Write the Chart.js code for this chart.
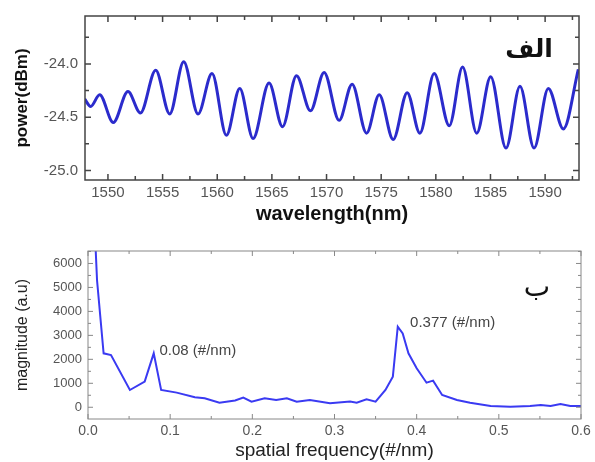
<!DOCTYPE html>
<html>
<head>
<meta charset="utf-8">
<script src="https://cdn.jsdelivr.net/npm/chart.js@4"></script>
<style>
  html, body { margin: 0; padding: 0; background: #fff; }
  #wrap { position: relative; width: 595px; height: 462px; }
  canvas { position: absolute; left: 0; }
  #top { top: 0; }
  #bottom { top: 232px; }
</style>
</head>
<body>
<div id="wrap">
  <canvas id="top" width="595" height="232"></canvas>
  <canvas id="bottom" width="595" height="230"></canvas>
</div>
<script>
// top plot: peaks and troughs of the transmission ripple
var wavelength = [1547.87, 1548.42, 1549.24, 1550.49, 1551.83, 1552.97, 1554.37, 1555.65, 1556.93, 1558.24,
    1559.52, 1560.84, 1562.06, 1563.28, 1564.74, 1565.97, 1567.25, 1568.53, 1569.78, 1571.15,
    1572.34, 1573.66, 1574.82, 1576.10, 1577.38, 1578.54, 1579.85, 1581.23, 1582.45, 1583.74,
    1585.02, 1586.42, 1587.70, 1588.99, 1590.29, 1591.67, 1593.04];
var power = [-24.33, -24.40, -24.29, -24.55, -24.26, -24.46, -24.06, -24.47, -23.98, -24.47,
    -24.09, -24.67, -24.23, -24.70, -24.18, -24.59, -24.11, -24.44, -24.08, -24.53,
    -24.19, -24.65, -24.29, -24.71, -24.27, -24.65, -24.09, -24.58, -24.03, -24.65,
    -24.12, -24.79, -24.21, -24.79, -24.23, -24.61, -24.05];

// bottom plot: spectrum magnitude
var freq = [0.008, 0.011, 0.019, 0.028, 0.051, 0.069, 0.080, 0.089, 0.108, 0.130,
    0.142, 0.160, 0.179, 0.189, 0.199, 0.215, 0.229, 0.242, 0.254, 0.270,
    0.2945, 0.319, 0.327, 0.339, 0.350, 0.362, 0.371, 0.377, 0.383, 0.390,
    0.400, 0.412, 0.420, 0.431, 0.449, 0.465, 0.490, 0.514, 0.538, 0.551,
    0.563, 0.575, 0.587, 0.600];
var magnitude = [7600, 5300, 2250, 2180, 720, 1070, 2250, 720, 610, 420,
    375, 190, 280, 400, 235, 375, 300, 375, 235, 300,
    165, 235, 190, 330, 235, 720, 1275, 3360, 3080, 2250,
    1625, 1025, 1110, 510, 300, 190, 55, 25, 55, 95,
    55, 140, 55, 55];
var magnitudeTicks = [0, 1000, 2000, 3000, 4000, 5000, 6000];

var peakLabels = ['0.08 (#/nm)', '0.377 (#/nm)'];
var peakLabelX = [0.087, 0.392];
var peakLabelY = [2345, 3525];

function toPoints(xs, ys) {
    var pts = [];
    for (var i = 0; i < xs.length; i++) pts.push({x: xs[i], y: ys[i]});
    return pts;
}

function steps(min, max, step) {
    var out = [];
    var v = Math.ceil(min / step - 1e-9) * step;
    for (; v <= max + 1e-9; v += step) out.push(Math.round(v * 1e6) / 1e6);
    return out;
}

// frame with inward tick marks on all four sides
var framePlugin = {
    id: 'frame',
    afterDraw: function (chart, args, o) {
        var ctx = chart.ctx, a = chart.chartArea, xs = chart.scales.x, ys = chart.scales.y;
        ctx.save();
        ctx.strokeStyle = o.color;
        ctx.lineWidth = o.width;
        ctx.strokeRect(a.left, a.top, a.right - a.left, a.bottom - a.top);
        ctx.beginPath();
        steps(xs.min, xs.max, o.xStep).forEach(function (v) {
            var px = xs.getPixelForValue(v);
            var len = Math.abs(v / o.xMajor - Math.round(v / o.xMajor)) < 1e-6 ? o.major : o.minor;
            ctx.moveTo(px, a.bottom); ctx.lineTo(px, a.bottom - len);
            ctx.moveTo(px, a.top); ctx.lineTo(px, a.top + len);
        });
        steps(ys.min, ys.max, o.yStep).forEach(function (v) {
            var py = ys.getPixelForValue(v);
            var len = Math.abs(v / o.yMajor - Math.round(v / o.yMajor)) < 1e-6 ? o.major : o.minor;
            ctx.moveTo(a.left, py); ctx.lineTo(a.left + len, py);
            ctx.moveTo(a.right, py); ctx.lineTo(a.right - len, py);
        });
        ctx.stroke();
        ctx.restore();
    }
};

// free text: panel letter and peak notes
var notesPlugin = {
    id: 'notes',
    afterDraw: function (chart, args, o) {
        var ctx = chart.ctx, xs = chart.scales.x, ys = chart.scales.y;
        ctx.save();
        ctx.fillStyle = '#111';
        ctx.font = o.tagFont;
        ctx.textAlign = 'center';
        ctx.textBaseline = 'middle';
        ctx.direction = 'rtl';
        ctx.fillText(o.tag, o.tagX, o.tagY);
        ctx.direction = 'ltr';
        if (o.labels) {
            ctx.fillStyle = '#444';
            ctx.font = '15px "Liberation Sans", Arial, sans-serif';
            ctx.textAlign = 'left';
            o.labels.forEach(function (t, i) {
                ctx.fillText(t, xs.getPixelForValue(o.lx[i]), ys.getPixelForValue(o.ly[i]));
            });
        }
        ctx.restore();
    }
};

Chart.defaults.font.family = '"Liberation Sans", Arial, sans-serif';
Chart.defaults.color = '#555';

var topChart = new Chart(document.getElementById('top'), {
    type: 'line',
    data: {
        datasets: [{
            data: toPoints(wavelength, power),
            borderColor: '#2b2bcc',
            borderWidth: 3,
            pointRadius: 0,
            cubicInterpolationMode: 'monotone'
        }]
    },
    options: {
        responsive: false,
        animation: false,
        devicePixelRatio: 1,
        layout: {padding: {top: 10, right: 16, left: 0, bottom: 0}},
        plugins: {
            legend: {display: false},
            tooltip: {enabled: false},
            frame: {color: '#444', width: 1.5, xStep: 2.5, xMajor: 5, yStep: 0.25, yMajor: 0.5, major: 6, minor: 4},
            notes: {tag: 'الف', tagFont: 'bold 25px "DejaVu Sans"', tagX: 529, tagY: 50}
        },
        scales: {
            x: {
                type: 'linear', min: 1547.9, max: 1593.1,
                grid: {display: false, drawTicks: false}, border: {display: false},
                ticks: {stepSize: 5, includeBounds: false, padding: 4, font: {size: 15},
                    callback: function (v) { return v.toFixed(0); }},
                title: {display: true, text: 'wavelength(nm)', color: '#111',
                    font: {size: 20, weight: 'bold'}, padding: {top: 0, bottom: 6}},
                afterFit: function (s) { s.height = 52; }
            },
            y: {
                type: 'linear', min: -25.09, max: -23.55,
                grid: {display: false, drawTicks: false}, border: {display: false},
                ticks: {stepSize: 0.5, includeBounds: false, padding: 7, font: {size: 15},
                    callback: function (v) { return v.toFixed(1); }},
                title: {display: true, text: 'power(dBm)', color: '#111',
                    font: {size: 17, weight: 'bold'}, padding: {top: 12, bottom: 0}},
                afterFit: function (s) { s.width = 85; }
            }
        }
    },
    plugins: [framePlugin, notesPlugin]
});

var bottomChart = new Chart(document.getElementById('bottom'), {
    type: 'line',
    data: {
        datasets: [{
            data: toPoints(freq, magnitude),
            borderColor: '#3a3af2',
            borderWidth: 2,
            pointRadius: 0,
            tension: 0
        }]
    },
    options: {
        responsive: false,
        animation: false,
        devicePixelRatio: 1,
        layout: {padding: {top: 19, right: 14, left: 0, bottom: 0}},
        plugins: {
            legend: {display: false},
            tooltip: {enabled: false},
            frame: {color: '#888', width: 1, xStep: 0.05, xMajor: 0.1, yStep: 500, yMajor: 1000, major: 5, minor: 3},
            notes: {tag: 'ب', tagFont: '28px "DejaVu Sans"', tagX: 537, tagY: 57,
                labels: peakLabels, lx: peakLabelX, ly: peakLabelY}
        },
        scales: {
            x: {
                type: 'linear', min: 0, max: 0.6,
                grid: {display: false, drawTicks: false}, border: {display: false},
                ticks: {stepSize: 0.1, includeBounds: false, padding: 4, font: {size: 14},
                    callback: function (v) { return v.toFixed(1); }},
                title: {display: true, text: 'spatial frequency(#/nm)', color: '#222',
                    font: {size: 19}, padding: {top: 0, bottom: 0}},
                afterFit: function (s) { s.height = 43; }
            },
            y: {
                type: 'linear', min: -490, max: 6520,
                grid: {display: false, drawTicks: false}, border: {display: false},
                ticks: {padding: 6, font: {size: 13},
                    callback: function (v) { return v.toFixed(0); }},
                afterBuildTicks: function (s) {
                    s.ticks = magnitudeTicks.map(function (v) { return {value: v}; });
                },
                title: {display: true, text: 'magnitude (a.u)', color: '#222',
                    font: {size: 16}, padding: {top: 13, bottom: 0}},
                afterFit: function (s) { s.width = 88; }
            }
        }
    },
    plugins: [framePlugin, notesPlugin]
});
</script>
</body>
</html>
